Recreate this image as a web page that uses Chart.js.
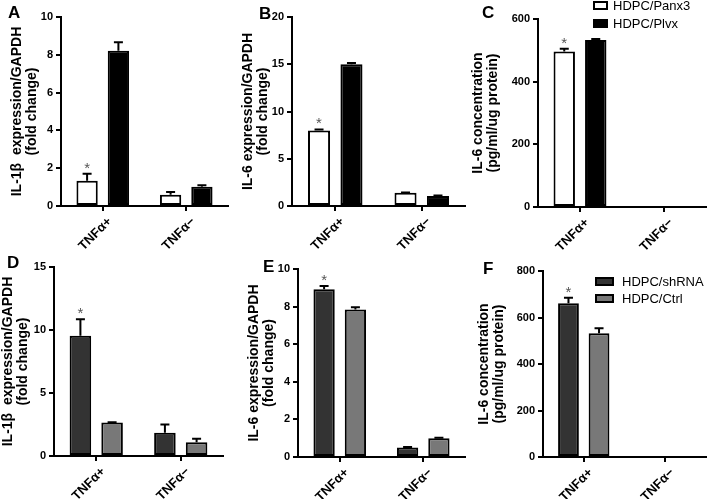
<!DOCTYPE html>
<html><head><meta charset="utf-8">
<script src="https://cdn.jsdelivr.net/npm/chart.js@4.4.1/dist/chart.umd.min.js"></script>
<style>
html,body{margin:0;padding:0;background:#fff;}
#wrap{position:relative;width:709px;height:499px;overflow:hidden;font-family:Arial,"Liberation Sans",Helvetica,sans-serif;}
canvas{position:absolute;}
.letter{position:absolute;font-weight:bold;font-size:17px;line-height:17px;color:#000;}
.lg-item{position:absolute;white-space:nowrap;font-size:13px;line-height:13px;color:#000;}
.lg-box{position:absolute;box-sizing:border-box;border:2px solid #000;}
</style></head><body><div id="wrap"></div>
<script>
// ---------- data ----------
const categories = ['TNFα+', 'TNFα−'];
const sigMarks = ['*', ''];

const seriesTop = ['HDPC/Panx3', 'HDPC/Plvx'];
const seriesBottom = ['HDPC/shRNA', 'HDPC/Ctrl'];

// A: IL-1β expression/GAPDH
const panx3Il1b = [1.33, 0.60];
const panx3Il1bErr = [0.37, 0.14];
const plvxIl1b = [8.22, 1.02];
const plvxIl1bErr = [0.45, 0.08];
// B: IL-6 expression/GAPDH
const panx3Il6 = [8.0, 1.4];
const panx3Il6Err = [0.1, 0.04];
const plvxIl6 = [15.0, 1.05];
const plvxIl6Err = [0.12, 0.05];
// C: IL-6 concentration
const panx3Il6Conc = [496, 0];
const panx3Il6ConcErr = [9, 0];
const plvxIl6Conc = [533, 0];
const plvxIl6ConcErr = [3, 0];
// D: IL-1β expression/GAPDH
const shrnaIl1b = [9.55, 1.85];
const shrnaIl1bErr = [1.3, 0.65];
const ctrlIl1b = [2.65, 1.1];
const ctrlIl1bErr = [0.03, 0.27];
// E: IL-6 expression/GAPDH
const shrnaIl6 = [8.92, 0.5];
const shrnaIl6Err = [0.18, 0.03];
const ctrlIl6 = [7.84, 1.0];
const ctrlIl6Err = [0.12, 0.02];
// F: IL-6 concentration
const shrnaIl6Conc = [661, 0];
const shrnaIl6ConcErr = [24, 0];
const ctrlIl6Conc = [532, 0];
const ctrlIl6ConcErr = [22, 0];

// y-axis tick settings
const yMaxA = 10, yStepA = 2;
const yMaxB = 20, yStepB = 5;
const yMaxC = 600, yStepC = 200;
const yMaxD = 15, yStepD = 5;
const yMaxE = 10, yStepE = 2;
const yMaxF = 800, yStepF = 200;

const titleIl1b = ['IL-1β  expression/GAPDH', '(fold change)'];
const titleIl6 = ['IL-6 expression/GAPDH', '(fold change)'];
const titleConc = ['IL-6 concentration', '(pg/ml/ug protein)'];

// ---------- styles / layout ----------
const FONT = 'Arial, "Liberation Sans", Helvetica, sans-serif';
const WHITE = '#ffffff', BLACK = '#000000', DARK = '#333333', GREY = '#787878';

const panels = [
  {letter:'A', lx:8, ly:4, cx:0, cy:0, cw:236, ch:250, L:61, T:17, R:228, B:206, t1:17, yMax:yMaxA, step:yStepA, title:titleIl1b,
   series:[{label:seriesTop[0], data:panx3Il1b, err:panx3Il1bErr, color:WHITE, sig:sigMarks},
           {label:seriesTop[1], data:plvxIl1b, err:plvxIl1bErr, color:BLACK}]},
  {letter:'B', lx:259, ly:5, cx:236, cy:0, cw:234, ch:250, L:292, T:17, R:465, B:206, t1:248, yMax:yMaxB, step:yStepB, title:titleIl6,
   series:[{label:seriesTop[0], data:panx3Il6, err:panx3Il6Err, color:WHITE, sig:sigMarks},
           {label:seriesTop[1], data:plvxIl6, err:plvxIl6Err, color:BLACK}]},
  {letter:'C', lx:482, ly:4, cx:470, cy:0, cw:239, ch:250, L:538, T:19, R:706, B:207, t1:478, yMax:yMaxC, step:yStepC, title:titleConc,
   legend:{x:593, y1:5, gap:18, bw:15, tg:5},
   series:[{label:seriesTop[0], data:panx3Il6Conc, err:panx3Il6ConcErr, color:WHITE, sig:sigMarks},
           {label:seriesTop[1], data:plvxIl6Conc, err:plvxIl6ConcErr, color:BLACK}]},
  {letter:'D', lx:7, ly:254, cx:0, cy:250, cw:236, ch:249, L:54, T:267, R:223, B:456, t1:8, yMax:yMaxD, step:yStepD, title:titleIl1b,
   series:[{label:seriesBottom[0], data:shrnaIl1b, err:shrnaIl1bErr, color:DARK, sig:sigMarks},
           {label:seriesBottom[1], data:ctrlIl1b, err:ctrlIl1bErr, color:GREY}]},
  {letter:'E', lx:263, ly:258, cx:236, cy:250, cw:234, ch:249, L:298, T:269, R:465, B:457, t1:254, yMax:yMaxE, step:yStepE, title:titleIl6,
   series:[{label:seriesBottom[0], data:shrnaIl6, err:shrnaIl6Err, color:DARK, sig:sigMarks},
           {label:seriesBottom[1], data:ctrlIl6, err:ctrlIl6Err, color:GREY}]},
  {letter:'F', lx:483, ly:260, cx:470, cy:250, cw:239, ch:249, L:543, T:271, R:706, B:457, t1:484, yMax:yMaxF, step:yStepF, title:titleConc,
   legend:{x:595, y1:281, gap:17.5, bw:19, tg:8},
   series:[{label:seriesBottom[0], data:shrnaIl6Conc, err:shrnaIl6ConcErr, color:DARK, sig:sigMarks},
           {label:seriesBottom[1], data:ctrlIl6Conc, err:ctrlIl6ConcErr, color:GREY}]}
];

// error bars + significance marks drawn from the chart's own scales/elements
const errorBarPlugin = {
  id: 'errorBars',
  afterDatasetsDraw(chart) {
    const ctx = chart.ctx;
    const yScale = chart.scales.y;
    chart.data.datasets.forEach((ds, i) => {
      const meta = chart.getDatasetMeta(i);
      meta.data.forEach((bar, j) => {
        const v = ds.data[j];
        const e = ds.errorBars ? ds.errorBars[j] : 0;
        const yTop = yScale.getPixelForValue(v + e);
        if (e > 0) {
          ctx.save();
          ctx.strokeStyle = '#000';
          ctx.lineWidth = 2;
          ctx.beginPath();
          ctx.moveTo(bar.x, bar.y);
          ctx.lineTo(bar.x, yTop);
          ctx.moveTo(bar.x - 4.5, yTop);
          ctx.lineTo(bar.x + 4.5, yTop);
          ctx.stroke();
          ctx.restore();
        }
        const mark = ds.sigMarks ? ds.sigMarks[j] : '';
        if (mark) {
          ctx.save();
          ctx.fillStyle = '#555';
          ctx.font = '15px ' + FONT;
          ctx.textAlign = 'center';
          ctx.textBaseline = 'alphabetic';
          ctx.fillText(mark, bar.x, yTop - 1);
          ctx.restore();
        }
      });
    });
  }
};

const wrap = document.getElementById('wrap');

panels.forEach((p) => {
  const cv = document.createElement('canvas');
  cv.width = p.cw; cv.height = p.ch;
  cv.style.left = p.cx + 'px'; cv.style.top = p.cy + 'px';
  cv.style.width = p.cw + 'px'; cv.style.height = p.ch + 'px';
  wrap.appendChild(cv);

  const lh = 14 * 1.1;
  const chart = new Chart(cv.getContext('2d'), {
    type: 'bar',
    data: {
      labels: categories,
      datasets: p.series.map(s => ({
        label: s.label,
        data: s.data,
        errorBars: s.err,
        sigMarks: s.sig,
        backgroundColor: s.color,
        borderColor: '#000',
        borderWidth: 2,
        borderSkipped: false,
        categoryPercentage: 0.75,
        barPercentage: 0.68
      }))
    },
    options: {
      responsive: false,
      animation: false,
      devicePixelRatio: 1,
      layout: {padding: {left: 0, top: p.T - p.cy, right: p.cx + p.cw - p.R, bottom: 0}},
      plugins: {legend: {display: false}, tooltip: {enabled: false}, title: {display: false}},
      scales: {
        x: {
          offset: true,
          grid: {display: true, drawOnChartArea: false, drawTicks: true, tickLength: 5, color: '#000', lineWidth: 2, offset: false},
          border: {display: true, color: '#000', width: 2},
          ticks: {font: {family: FONT, size: 13, weight: 'bold'}, color: '#000', minRotation: 45, maxRotation: 45, autoSkip: false, padding: 3, labelOffset: 7},
          afterFit: (s) => { s.height = p.cy + p.ch - p.B; }
        },
        y: {
          min: 0, max: p.yMax,
          ticks: {stepSize: p.step, font: {family: FONT, size: 11, weight: 'bold'}, color: '#000', padding: 3},
          grid: {display: true, drawOnChartArea: false, drawTicks: true, tickLength: 5, color: '#000', lineWidth: 2},
          border: {display: true, color: '#000', width: 2},
          title: {display: true, text: p.title, color: '#000', font: {family: FONT, size: 14, weight: 'bold', lineHeight: 1.1},
                  padding: {top: p.t1 - p.cx - lh / 2, bottom: 0}},
          afterFit: (s) => { s.width = p.L - p.cx; }
        }
      }
    },
    plugins: [errorBarPlugin]
  });

  // panel letter
  const lt = document.createElement('div');
  lt.className = 'letter';
  lt.textContent = p.letter;
  lt.style.left = p.lx + 'px'; lt.style.top = p.ly + 'px';
  wrap.appendChild(lt);

  // HTML legend built from the chart's datasets
  if (p.legend) {
    chart.data.datasets.forEach((ds, i) => {
      const yc = p.legend.y1 + i * p.legend.gap;
      const box = document.createElement('div');
      box.className = 'lg-box';
      box.style.left = p.legend.x + 'px';
      box.style.top = (yc - 4.5) + 'px';
      box.style.width = p.legend.bw + 'px';
      box.style.height = '9px';
      box.style.background = ds.backgroundColor;
      wrap.appendChild(box);
      const tx = document.createElement('div');
      tx.className = 'lg-item';
      tx.textContent = ds.label;
      tx.style.left = (p.legend.x + p.legend.bw + p.legend.tg) + 'px';
      tx.style.top = (yc - 6.5) + 'px';
      wrap.appendChild(tx);
    });
  }
});
</script>
</body></html>
